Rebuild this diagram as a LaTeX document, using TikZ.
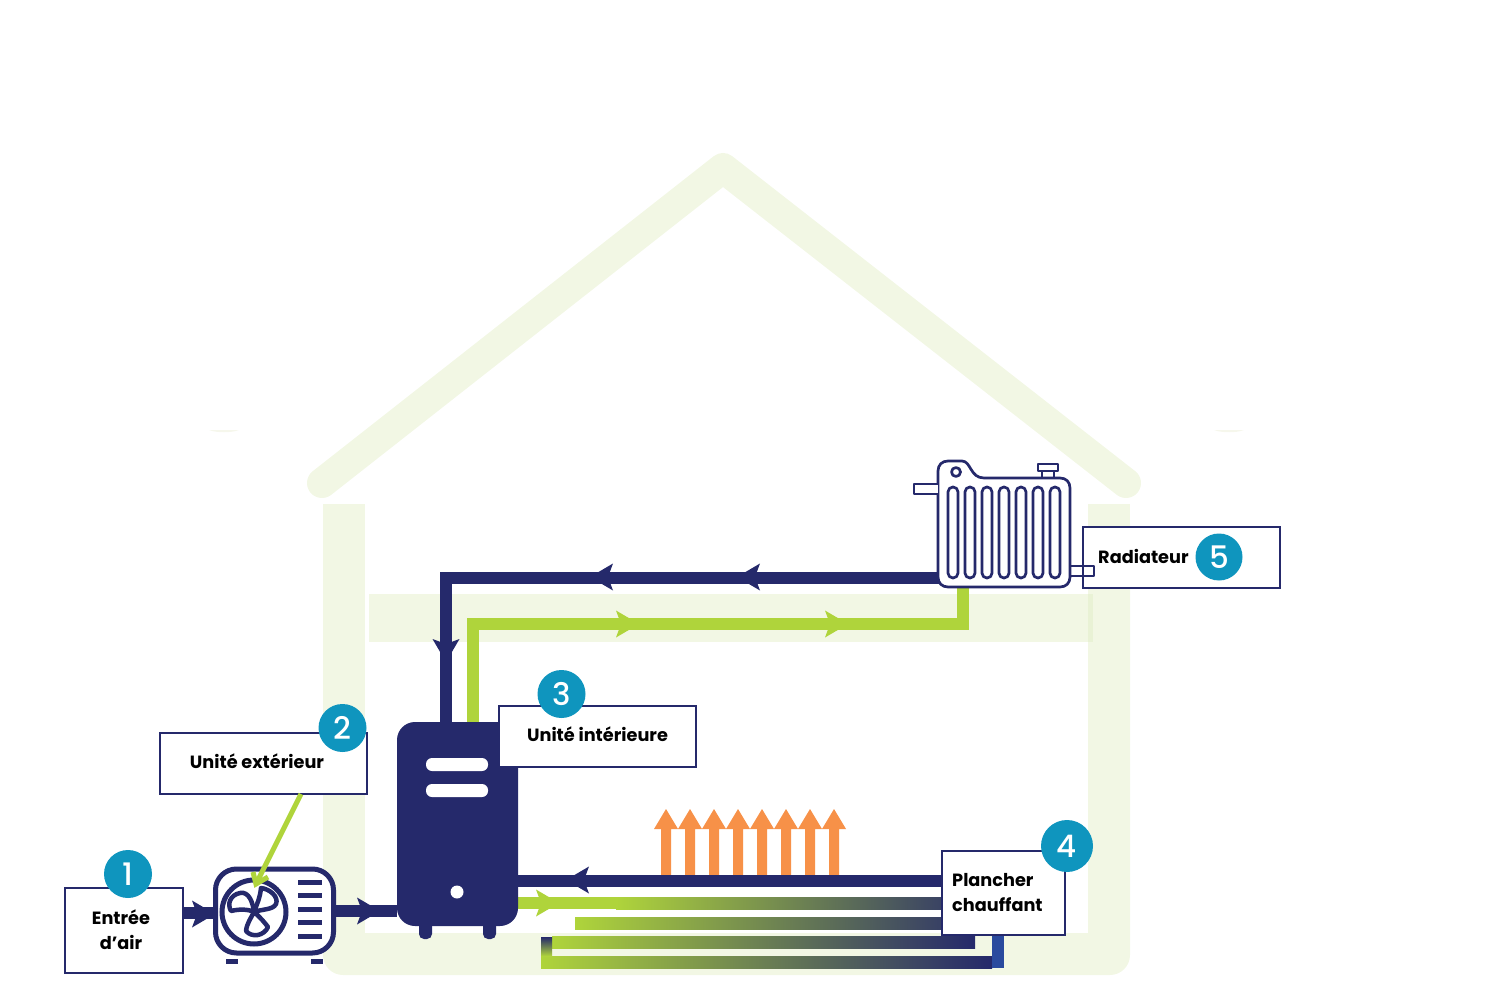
\documentclass[tikz,border=0pt]{standalone}
\usepackage{fontspec}
\setmainfont{Poppins}
\newfontfamily\popnum{Poppins Medium}
\definecolor{navy}{HTML}{25296B}
\definecolor{leaf}{HTML}{AFD43B}
\definecolor{pale}{HTML}{F2F7E4}
\definecolor{paler}{HTML}{E9F2D5}
\definecolor{teal}{HTML}{0F95BE}
\definecolor{heat}{HTML}{F79148}
\definecolor{riser}{HTML}{2A4A9E}
\definecolor{ghost}{HTML}{F6F7EC}
\tikzset{
  x=1pt,y=-1pt,
  box/.style={draw=navy,line width=2.8pt,fill=white,rectangle,inner sep=0pt,outer sep=0pt},
  badge/.style={circle,fill=teal,text=white,inner sep=0pt,font=\popnum\fontsize{31}{31}\selectfont},
  lab/.style={inner sep=0pt,align=center,text=black,font=\fontsize{17.7}{25}\selectfont\bfseries},
  navypipe/.style={draw=navy,line width=12pt,line cap=butt,line join=miter},
  leafpipe/.style={draw=leaf,line width=12pt,line cap=butt,line join=miter},
  thin line/.style={draw=navy,line width=2.7pt,line join=round},
  flowhead/.pic={\fill (12,0) -- (-11,-13.5) -- (-6,0) -- (-11,13.5) -- cycle;},
  heatup/.pic={\fill (-12,-46) -- (0,-66) -- (12,-46) -- (5,-46) -- (5,0) -- (-5,0) -- (-5,-46) -- cycle;},
  fin/.pic={\draw[thin line,rounded corners=4.9pt] (-5,487) rectangle (5,578);}
}
\begin{document}
\begin{tikzpicture}
\useasboundingbox (0,0) rectangle (1500,1000);
% house
\fill[ghost] (209,430) .. controls (216,433) and (232,433) .. (239,430) -- cycle;
\fill[ghost] (1214,430) .. controls (1221,433) and (1237,433) .. (1244,430) -- cycle;
\draw[pale,line width=30pt,line cap=round,line join=round] (322,483) -- (723,168) -- (1126,483);
\fill[pale,rounded corners=20pt] (323,504) -- (323,975) -- (1130,975) -- (1130,504) -- cycle;
\fill[pale] (323,504) rectangle (365,540);
\fill[pale] (1088,504) rectangle (1130,540);
\fill[white] (365,504) rectangle (1088,933);
\fill[pale] (369,594) rectangle (1093,642);
\fill[paler] (1088,594) rectangle (1093,642);
% named anchors
\coordinate (radL) at (940,578);
\coordinate (corner1) at (446,578);
\coordinate (tankIn) at (446,724);
\coordinate (radB) at (963,586);
\coordinate (corner2) at (963,624);
\coordinate (corner3) at (473,624);
\coordinate (tankOut) at (473,724);
\coordinate (floorIn) at (945,881);
\coordinate (tankFloor) at (516,881);
\coordinate (tankFloor2) at (516,903);
\coordinate (solidEnd) at (616,903);
% heat arrows
\foreach \hx in {666,690,714,738,762,786,810,834}{\pic[heat] at (\hx,875) {heatup};}
% floor loops
\shade[left color=leaf,right color=navy] (616,897) rectangle (1000,909);
\shade[left color=leaf,right color=navy] (575,917) rectangle (1000,929);
\shade[left color=leaf,right color=navy] (552,936) rectangle (975,948);
\shade[left color=leaf,right color=navy] (541,956) rectangle (992,968);
\shade[top color=navy,bottom color=leaf] (541,937) rectangle (552,956);
\fill[riser] (992,930) rectangle (1004,968);
\draw[leafpipe] (tankFloor2) -- (solidEnd);
% pipes
\draw[navypipe] (radL) -- (corner1) -- (tankIn);
\draw[leafpipe] (radB) -- (corner2) -- (corner3) -- (tankOut);
\draw[navypipe] (floorIn) -- (tankFloor);
\pic[navy,rotate=180] at (602,577) {flowhead};
\pic[navy,rotate=180] at (749,577) {flowhead};
\pic[navy,rotate=-90] at (446,650) {flowhead};
\pic[navy,rotate=180] at (578,880) {flowhead};
\pic[leaf] at (627,624) {flowhead};
\pic[leaf] at (836,624) {flowhead};
\pic[leaf] at (547,903) {flowhead};
% indoor unit
\node[fill=navy,rectangle,rounded corners=18pt,minimum width=121pt,minimum height=204pt,inner sep=0pt] (tank) at (457.5,824) {};
\fill[white,rounded corners=6pt] (426,758) rectangle (488,771);
\fill[white,rounded corners=6pt] (426,784) rectangle (488,797);
\fill[white] (457,892) circle (6.5);
\fill[navy,rounded corners=5pt] (419,920) rectangle (432,939);
\fill[navy,rounded corners=5pt] (483,920) rectangle (496,939);
% outdoor unit
\node[draw=navy,line width=5pt,fill=white,rectangle,rounded corners=21pt,minimum width=118pt,minimum height=84pt,inner sep=0pt] (outdoor) at (274.5,911) {};
\coordinate (airIn) at (184,913);
\coordinate (airOut) at (397,911);
\draw[navypipe] (airIn) -- (outdoor.west |- airIn);
\draw[navypipe] (outdoor.east |- airOut) -- (airOut);
\pic[navy] at (203,914) {flowhead};
\pic[navy] at (368,911) {flowhead};
\draw[navy,line width=5pt] (254,912) circle (32);
\begin{scope}[shift={(254,912)}]
\draw[navy,line width=4.5pt,line join=round] (0,0) .. controls (-1,-9) and (-5,-21) .. (-14,-19) .. controls (-24,-17) and (-27,-8) .. (-23,-1) .. controls (-15,-3) and (-6,-3) .. (0,0);
\draw[navy,line width=4.5pt,line join=round] (0,0) .. controls (3,-8) and (6,-14) .. (7,-24) .. controls (16,-23) and (25,-15) .. (22,-8) .. controls (19,-2) and (8,-3) .. (0,0);
\draw[navy,line width=4.5pt,line join=round] (0,0) .. controls (6,5) and (11,11) .. (14,15) .. controls (10,24) and (-2,26) .. (-8,19) .. controls (-7,11) and (-3,6) .. (0,0);
\end{scope}
\foreach \sy in {882,895,909,922,936}{\fill[navy] (298,\sy-2.5) rectangle (322,\sy+2.5);}
\fill[navy] (226,959) rectangle (238,964);
\fill[navy] (311,959) rectangle (323,964);
% radiator label box first, radiator over it
\node[box,minimum width=197pt,minimum height=61pt] (b5) at (1181.5,557.5) {};
% radiator
\draw[thin line,fill=white] (938,577) -- (938,471) .. controls (938,465) and (942,461) .. (948,461) -- (962,461) .. controls (971,461) and (970,478) .. (984,478) -- (1060,478) .. controls (1066,478) and (1070,482) .. (1070,488) -- (1070,577) .. controls (1070,583) and (1066,587) .. (1060,587) -- (948,587) .. controls (942,587) and (938,583) .. (938,577) -- cycle;
\draw[thin line,fill=white] (938,484) -- (914,484) -- (914,494) -- (938,494);
\draw[thin line] (1070,566) -- (1094,566) -- (1094,576) -- (1070,576);
\draw[thin line] (1038,464) rectangle (1058,471);
\draw[thin line] (1042,471) -- (1042,478);
\draw[thin line] (1054,471) -- (1054,478);
\draw[thin line] (956,472) circle (4.5);
\foreach \fx in {953,970,987,1004,1021,1038,1055}{\pic at (\fx,0) {fin};}
% boxes
\node[box,minimum width=118pt,minimum height=85pt] (b1) at (124,930.5) {};
\node[box,minimum width=207pt,minimum height=61pt] (b2) at (263.5,763.5) {};
\node[box,minimum width=197pt,minimum height=61pt] (b3) at (597.5,736.5) {};
\node[box,minimum width=123pt,minimum height=84pt] (b4) at (1003.5,893) {};
% leader
\coordinate (fan) at (256,884);
\draw[leaf,line width=5pt] (b2.south -| 301,794) -- (fan);
\draw[leaf,line width=5pt,line join=miter] (253,872) -- (fan) -- (268,877);
% texts
\node[lab] (t1) at (121,930) {Entrée\\d’air};
\node[lab] (t2) at (257,761) {Unité extérieur};
\node[lab] (t3) at (597.5,734) {Unité intérieure};
\node[lab,align=left,anchor=west] (t4) at (952,893) {Plancher\\chauffant};
\node[lab,anchor=west] (t5) at (1098,556.5) {Radiateur};
% badges
\node[badge,minimum size=48pt] (n1) at (128,874) {1};
\node[badge,minimum size=48pt] (n2) at (342.5,728) {2};
\node[badge,minimum size=48pt] (n3) at (561.5,694) {3};
\node[badge,minimum size=52pt] (n4) at (1067,846) {4};
\node[badge,minimum size=47pt] (n5) at (1219,557) {5};
\end{tikzpicture}
\end{document}
